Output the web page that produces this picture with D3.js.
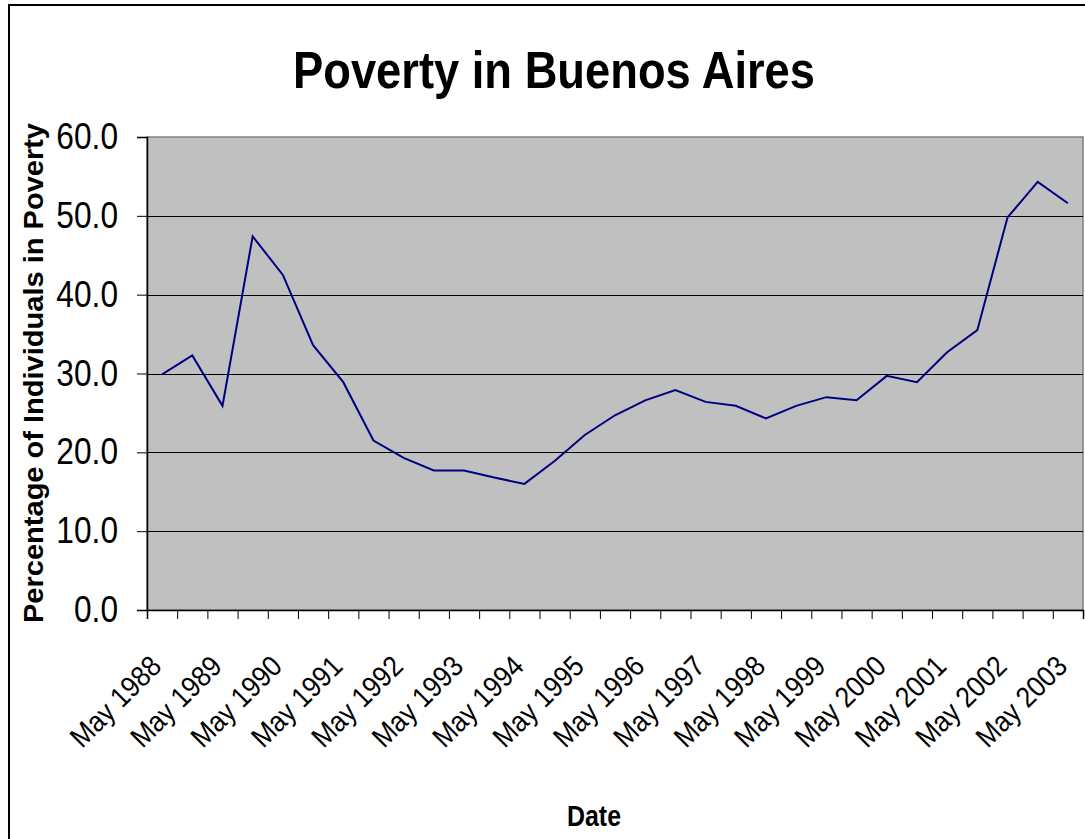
<!DOCTYPE html>
<html>
<head>
<meta charset="utf-8">
<script src="https://cdn.jsdelivr.net/npm/d3@7"></script>
<style>
  html, body { margin: 0; padding: 0; background: #fff; }
  svg { display: block; font-family: "Liberation Sans", Arial, sans-serif; }
</style>
</head>
<body>
<svg id="chart" width="1085" height="839"></svg>
<script>
// Survey waves (May / October) for Greater Buenos Aires
const periods = [
  "May 1988", "Oct 1988", "May 1989", "Oct 1989", "May 1990", "Oct 1990",
  "May 1991", "Oct 1991", "May 1992", "Oct 1992", "May 1993", "Oct 1993",
  "May 1994", "Oct 1994", "May 1995", "Oct 1995", "May 1996", "Oct 1996",
  "May 1997", "Oct 1997", "May 1998", "Oct 1998", "May 1999", "Oct 1999",
  "May 2000", "Oct 2000", "May 2001", "Oct 2001", "May 2002", "Oct 2002",
  "May 2003"
];
// Percentage of individuals below the poverty line
const povertyRate = [
  29.9, 32.3, 25.9, 47.4, 42.5, 33.6,
  28.9, 21.5, 19.3, 17.7, 17.7, 16.8,
  16.0, 18.9, 22.2, 24.7, 26.6, 27.9,
  26.4, 25.9, 24.3, 25.9, 27.0, 26.6,
  29.7, 28.9, 32.7, 35.5, 49.8, 54.3,
  51.6
];
const yTicks = [0, 10, 20, 30, 40, 50, 60];
const xLabels = periods.filter(p => p.startsWith("May"));

const svg = d3.select("#chart");
const plot = { left: 147, right: 1083, top: 137, bottom: 610 };

// outer chart frame
svg.append("rect")
  .attr("x", 9).attr("y", 5)
  .attr("width", 1100).attr("height", 860)
  .attr("fill", "#fff").attr("stroke", "#000").attr("stroke-width", 2);

const x = d3.scaleBand().domain(periods).range([plot.left, plot.right]).padding(0);
const xEdge = d3.scaleLinear().domain([0, periods.length]).range([plot.left, plot.right]);
const y = d3.scaleLinear().domain([0, 60]).range([plot.bottom, plot.top]);

// plot background
svg.append("rect")
  .attr("x", plot.left).attr("y", plot.top)
  .attr("width", plot.right - plot.left).attr("height", plot.bottom - plot.top)
  .attr("fill", "#c0c0c0").attr("stroke", "#808080").attr("stroke-width", 1.5);

// horizontal gridlines
svg.append("g")
  .selectAll("line")
  .data(yTicks.filter(t => t > 0 && t < 60))
  .join("line")
  .attr("x1", plot.left).attr("x2", plot.right)
  .attr("y1", d => Math.round(y(d)) + 0.5).attr("y2", d => Math.round(y(d)) + 0.5)
  .attr("stroke", "#000").attr("stroke-width", 1);

// y axis (tall, slightly narrow numerals)
const yAxis = svg.append("g")
  .attr("transform", `translate(${plot.left},0)`)
  .call(d3.axisLeft(y).tickValues(yTicks).tickFormat(d3.format(".1f")).tickSize(10).tickPadding(19));
yAxis.select(".domain").attr("stroke", "#000").attr("stroke-width", 1.5);
yAxis.selectAll(".tick line").attr("stroke", "#000");
yAxis.selectAll(".tick text")
  .attr("font-size", 36).attr("fill", "#000")
  .attr("font-family", "'Liberation Sans', Arial, sans-serif")
  .each(function () {
    const w = this.getComputedTextLength();
    d3.select(this).attr("textLength", w * 0.88).attr("lengthAdjust", "spacingAndGlyphs");
  });

// x axis: ticks at category boundaries
const xAxis = svg.append("g")
  .attr("transform", `translate(0,${plot.bottom})`)
  .call(d3.axisBottom(xEdge).tickValues(d3.range(periods.length + 1)).tickFormat("").tickSize(9));
xAxis.select(".domain").attr("stroke", "#000").attr("stroke-width", 1.5);
xAxis.selectAll(".tick line").attr("stroke", "#000");

// x category labels (May waves)
svg.append("g")
  .selectAll("text")
  .data(xLabels)
  .join("text")
  .attr("transform", d => `translate(${x(d) + x.bandwidth() / 2 + 1},${plot.bottom + 58}) rotate(-45) scale(0.9,1)`)
  .attr("text-anchor", "end")
  .attr("font-size", 29)
  .attr("fill", "#000")
  .text(d => d);

// poverty line
const line = d3.line()
  .x((d, i) => x(periods[i]) + x.bandwidth() / 2)
  .y(d => y(d));
svg.append("path")
  .datum(povertyRate)
  .attr("d", line)
  .attr("fill", "none")
  .attr("stroke", "#000080")
  .attr("stroke-width", 2)
  .attr("stroke-linejoin", "miter");

// titles
svg.append("text")
  .attr("x", 554).attr("y", 88)
  .attr("text-anchor", "middle")
  .attr("font-size", 52).attr("font-weight", "bold")
  .attr("textLength", 522).attr("lengthAdjust", "spacingAndGlyphs")
  .text("Poverty in Buenos Aires");

svg.append("text")
  .attr("x", 594).attr("y", 826)
  .attr("text-anchor", "middle")
  .attr("font-size", 30).attr("font-weight", "bold")
  .attr("textLength", 54).attr("lengthAdjust", "spacingAndGlyphs")
  .text("Date");

svg.append("text")
  .attr("transform", "translate(43,373) rotate(-90)")
  .attr("text-anchor", "middle")
  .attr("font-size", 28).attr("font-weight", "bold")
  .attr("textLength", 500).attr("lengthAdjust", "spacingAndGlyphs")
  .text("Percentage of Individuals in Poverty");
</script>
</body>
</html>
